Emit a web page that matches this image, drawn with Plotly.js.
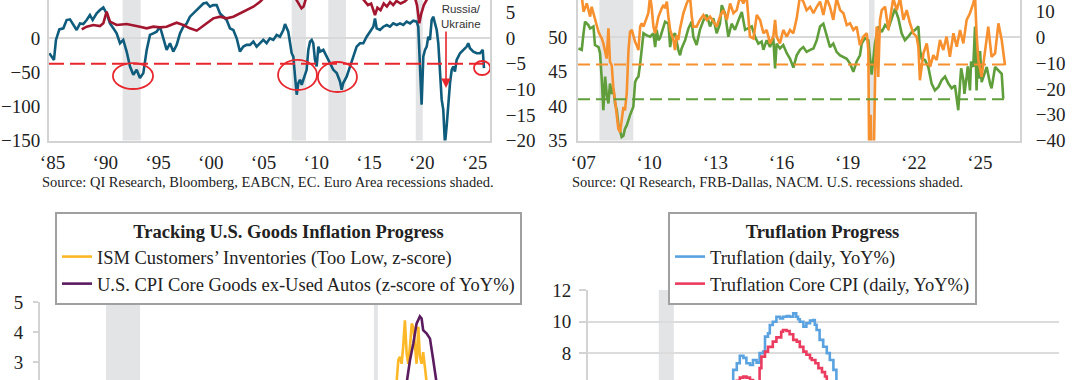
<!DOCTYPE html>
<html><head><meta charset="utf-8">
<script src="https://cdn.plot.ly/plotly-3.0.1.min.js"></script>
<style>html,body{margin:0;padding:0;background:#fff}#chart{width:1080px;height:380px}</style>
</head><body><div id="chart"></div>
<script>
// ---------- DATA ----------
// Top-left: Euro area (left axis) and red series (right axis)
const tlBlueYears = [1984.70,1984.92,1985.14,1985.33,1985.65,1986.03,1986.34,1986.66,1986.97,1987.29,1987.61,1987.92,1988.24,1988.55,1988.81,1989.19,1989.50,1989.82,1990.13,1990.45,1990.77,1991.08,1991.40,1991.71,1992.03,1992.35,1992.66,1992.98,1993.29,1993.61,1993.93,1994.24,1994.56,1994.87,1995.19,1995.51,1995.82,1996.14,1996.45,1996.77,1997.09,1997.40,1997.72,1998.03,1998.35,1998.67,1998.98,1999.30,1999.61,1999.93,2000.24,2000.56,2000.88,2001.19,2001.51,2001.82,2002.14,2002.46,2002.77,2003.09,2003.40,2003.72,2004.04,2004.35,2004.67,2004.98,2005.30,2005.60,2005.93,2006.25,2006.56,2006.88,2007.04,2007.35,2007.67,2007.83,2007.99,2008.15,2008.30,2008.46,2008.62,2008.78,2009.09,2009.25,2009.41,2009.57,2009.72,2009.88,2010.04,2010.20,2010.36,2010.67,2010.99,2011.30,2011.62,2011.94,2012.09,2012.25,2012.41,2012.56,2012.89,2013.20,2013.51,2013.83,2014.15,2014.46,2014.78,2015.09,2015.41,2015.57,2015.73,2016.04,2016.36,2016.68,2016.99,2017.30,2017.63,2017.94,2018.25,2018.57,2018.89,2019.20,2019.52,2019.67,2019.83,2019.99,2020.15,2020.31,2020.47,2020.62,2020.78,2020.94,2021.09,2021.26,2021.42,2021.57,2021.73,2021.89,2022.04,2022.20,2022.36,2022.52,2022.68,2022.84,2022.99,2023.15,2023.31,2023.63,2023.94,2024.26,2024.41,2024.57,2024.89,2025.21,2025.52,2025.78,2025.90];
const tlBlueValues = [-21.9,-26.8,-31.7,-2.4,13.1,14.6,26.8,27.8,19.5,12.2,21.9,20.9,26.8,34.1,26.8,36.5,41.4,45.3,36.5,21.9,14.6,7.3,-7.3,-2.4,-19.5,-41.4,-53.6,-46.3,-58.4,-51.1,-17.0,4.9,7.3,9.7,17.0,-2.4,-17.0,-7.3,-19.5,-9.7,7.3,17.0,21.9,31.7,36.5,41.4,46.3,51.1,52.1,46.3,48.7,48.7,36.5,31.7,26.8,14.6,12.2,0,-19.5,-12.2,-9.7,-9.7,-4.9,-12.2,-7.3,-2.4,-7.3,0,-2.4,4.9,2.4,12.2,20.9,9.7,-21.9,-26.8,-56.0,-82.8,-65.7,-60.9,-68.2,-60.9,-46.3,-17.0,-4.9,-2.4,-7.3,-31.7,-41.4,-12.2,-19.5,-17.0,-26.8,-36.5,-46.3,-51.1,-58.4,-63.3,-75.5,-65.7,-56.0,-41.4,-26.8,-12.2,-7.3,-7.3,2.4,9.7,17.0,29.2,14.6,12.2,17.0,19.5,17.0,21.9,19.5,21.9,19.5,24.4,21.9,25.8,24.4,17.0,-41.4,-97.4,-26.8,-17.0,-12.2,2.4,-2.4,26.8,31.7,21.9,12.2,-7.3,-46.3,-90.1,-104.7,-155,-129,-90.1,-65.7,-46.3,-41.4,-48.7,-31.7,-21.9,-17.0,-12.2,-7.3,-14.6,-19.5,-21.9,-21.9,-17.0,-43.8];
const tlRedYears = [1987.77,1988.24,1988.87,1989.50,1989.82,1990.13,1990.45,1991.08,1992.03,1992.66,1993.29,1993.93,1994.56,1995.19,1995.82,1996.45,1996.77,1997.40,1998.03,1998.67,1998.98,1999.61,2000.24,2000.88,2001.51,2002.14,2002.77,2003.40,2004.04,2004.67,2004.98,2005.6,2006.3,2007.0,2007.7,2008.1,2008.4,2008.6,2008.8,2009.0,2009.5,2010.5,2012.0,2013.5,2014.3,2014.6,2014.9,2015.2,2015.57,2015.8,2016.1,2016.4,2016.7,2017.0,2017.3,2017.6,2018.0,2018.4,2018.8,2019.3,2019.55,2019.77,2019.95,2020.2,2020.5,2021.0,2022.0,2023.0,2024.0,2025.0,2025.9];
const tlRedValues = [1.75,2.27,2.6,2.4,2.92,5.2,3.25,2.6,2.79,2.6,2.27,1.95,2.27,2.14,2.27,2.79,3.05,2.6,1.95,1.49,1.95,2.92,3.9,4.22,3.9,4.22,4.87,5.52,6.17,7.14,7.8,8.6,9.4,10.0,9.0,7.6,6.5,5.85,6.2,7.6,9.3,10.2,10.0,9.4,8.0,7.2,6.5,6.8,4.55,6.0,5.5,6.8,6.2,7.1,6.5,7.3,6.8,7.2,8.0,8.3,6.5,2.92,4.8,6.5,7.8,9.5,10.0,10.3,10.0,10.4,10.1];
const tlYearTicks = [1985,1990,1995,2000,2005,2010,2015,2020,2025];
const tlYearLabels = ['\u201885','\u201890','\u201895','\u201800','\u201805','\u201810','\u201815','\u201820','\u201825'];
const tlRecessions = [[1991.65,1993.36],[2007.67,2009.03],[2011.14,2012.82],[2019.43,2020.09]];
const tlThreshold = -5; // right axis
const tlCircles = [[1990.73,1994.53,-36.3,-74.4],[2006.38,2010.07,-31.8,-75.9],[2010.16,2013.86,-34.8,-78.8],[2024.95,2026.5,-33.3,-53.9]];

// Top-right: NACM (green, left axis) and FRB-Dallas (orange, right axis)
const trGreenYears = [2006.79,2006.94,2007.02,2007.09,2007.24,2007.32,2007.47,2007.54,2007.70,2007.77,2007.85,2007.92,2008.00,2008.07,2008.15,2008.22,2008.30,2008.37,2008.45,2008.53,2008.60,2008.68,2008.75,2008.83,2008.90,2008.98,2009.06,2009.13,2009.28,2009.36,2009.43,2009.51,2009.59,2009.66,2009.74,2009.89,2010.04,2010.19,2010.27,2010.34,2010.42,2010.49,2010.57,2010.72,2010.87,2010.95,2011.02,2011.17,2011.32,2011.40,2011.47,2011.63,2011.78,2011.93,2012.00,2012.15,2012.30,2012.46,2012.61,2012.76,2012.91,2013.06,2013.21,2013.29,2013.44,2013.59,2013.74,2013.89,2014.05,2014.20,2014.35,2014.50,2014.65,2014.80,2014.95,2015.10,2015.18,2015.33,2015.48,2015.63,2015.71,2015.78,2015.93,2016.08,2016.24,2016.39,2016.54,2016.69,2016.84,2016.99,2017.14,2017.30,2017.45,2017.60,2017.75,2017.90,2018.05,2018.20,2018.35,2018.50,2018.66,2018.81,2018.96,2019.11,2019.26,2019.41,2019.56,2019.64,2019.79,2019.94,2020.09,2020.24,2020.39,2020.55,2020.70,2020.85,2021.00,2021.15,2021.30,2021.45,2021.60,2021.75,2021.91,2022.06,2022.21,2022.28,2022.36,2022.51,2022.66,2022.81,2022.96,2023.12,2023.27,2023.42,2023.57,2023.72,2023.87,2024.02,2024.10,2024.15,2024.25,2024.30,2024.40,2024.45,2024.55,2024.60,2024.70,2024.78,2024.85,2024.90,2024.95,2025.01,2025.08,2025.16,2025.31,2025.46,2025.53,2025.69,2025.84,2025.99,2026.06];
const trGreenValues = [48.4,48.2,50.6,52.3,51.8,51.3,51.6,48.9,48.6,47.7,43.8,39.4,44.3,41.8,40.4,43.3,41.8,42.6,40.4,39.4,37.4,36.2,35.5,35.7,36.7,37.2,38.2,38.7,39.9,43.5,44.0,44.3,46.2,48.6,50.6,50.3,50.1,50.6,48.6,51.1,49.6,49.9,50.8,52.3,52.0,48.6,50.1,50.6,48.2,47.4,48.4,49.6,51.3,52.3,50.1,48.9,51.1,52.5,53.3,51.6,52.8,50.6,52.0,54.7,53.5,50.1,52.0,51.1,52.5,53.7,51.1,51.3,51.6,50.1,49.1,49.4,48.2,49.6,48.6,49.9,45.5,49.1,48.4,48.9,47.7,46.9,45.6,47.4,48.2,48.6,47.9,48.2,48.4,49.6,51.6,52.0,50.1,48.6,49.1,47.9,47.4,47.2,46.9,46.2,45.0,46.5,47.4,49.1,49.9,49.6,44.6,49.1,51.6,50.8,51.8,51.3,52.8,54.2,52.8,50.6,49.6,50.1,50.8,51.1,51.6,48.2,46.9,46.7,45.7,43.3,42.3,42.8,43.8,44.3,43.3,42.6,43.0,39.4,43.3,45.5,43.8,41.8,44.3,45.8,42.3,46.5,45.7,51.6,42.3,47.0,44.0,48.0,43.5,44.3,45.7,43.3,42.6,45.7,45.2,44.7,41.1];
const trOrangeYears = [2006.94,2007.02,2007.17,2007.32,2007.39,2007.54,2007.70,2007.77,2007.85,2007.92,2008.00,2008.07,2008.15,2008.22,2008.30,2008.37,2008.45,2008.53,2008.60,2008.68,2008.75,2008.83,2008.90,2008.98,2009.06,2009.13,2009.21,2009.28,2009.36,2009.43,2009.51,2009.59,2009.66,2009.74,2009.81,2009.96,2010.04,2010.11,2010.19,2010.27,2010.34,2010.42,2010.57,2010.65,2010.72,2010.80,2010.87,2010.95,2011.10,2011.17,2011.25,2011.32,2011.40,2011.47,2011.55,2011.70,2011.85,2011.93,2012.00,2012.15,2012.30,2012.46,2012.61,2012.76,2012.91,2013.06,2013.21,2013.36,2013.52,2013.67,2013.82,2013.97,2014.12,2014.27,2014.42,2014.50,2014.57,2014.73,2014.88,2015.03,2015.18,2015.33,2015.48,2015.63,2015.71,2015.78,2015.93,2016.08,2016.24,2016.39,2016.54,2016.69,2016.84,2016.99,2017.14,2017.30,2017.45,2017.60,2017.75,2017.90,2018.05,2018.20,2018.35,2018.50,2018.66,2018.81,2018.96,2019.11,2019.26,2019.41,2019.56,2019.71,2019.87,2019.94,2019.99,2020.05,2020.12,2020.20,2020.26,2020.32,2020.39,2020.47,2020.55,2020.70,2020.85,2020.92,2021.07,2021.23,2021.38,2021.53,2021.68,2021.83,2021.98,2022.13,2022.21,2022.28,2022.44,2022.59,2022.74,2022.89,2023.04,2023.19,2023.34,2023.49,2023.64,2023.80,2023.95,2024.10,2024.25,2024.40,2024.55,2024.70,2024.78,2024.85,2024.93,2025.08,2025.23,2025.38,2025.53,2025.69,2025.84,2025.99,2026.14];
const trOrangeValues = [16,10.0,13.2,8.1,11.9,6.8,2.2,0.9,-0.4,-2.3,-6.2,-8.2,3.5,-9.5,-10.8,-19.2,-24.4,-29.6,-35.5,-36.8,-32.9,-27.0,-28.3,-21.8,-4.9,2.2,2.9,0.3,-1.7,-3.0,-4.9,4.2,5.5,4.2,6.1,9.4,16,11.9,4.2,1.6,4.8,8.1,11.3,12.6,11.3,13.9,8.1,2.9,-1.0,-4.9,0.9,-1.0,3.5,6.8,9.4,13.2,16,8.1,4.2,4.2,6.8,8.7,6.8,8.1,6.1,4.2,8.1,10.6,6.8,13.2,9.4,10.6,16,13.2,16,6.8,0.3,-0.4,8.7,6.8,1.6,2.9,-2.3,0.3,6.8,0.3,-2.3,2.9,0.3,2.9,1.6,7.4,16,13.9,10.6,11.9,9.4,11.9,13.9,8.7,15.2,11.9,6.8,15.2,10.6,9.4,4.8,5.5,2.9,4.2,-3.0,0.3,1.6,-5,-60,-30,-75,-40,-8.8,4.2,-15.3,6.8,10.6,11.9,2.9,6.8,15.2,10.6,15.2,6.8,10.6,5.5,1.6,0.3,-3.6,-16.6,-6.2,-2.3,-11.4,-6.9,-8.8,-1.0,-4.9,0.3,-7.5,1.6,-3.6,2.9,-2.3,6.8,9.4,13.2,16,1.6,-8.8,-15.3,-4.9,4.2,-7.5,-6.2,5.5,-1.0,-10.8];
const trYearTicks = [2007,2010,2013,2016,2019,2022,2025];
const trYearLabels = ['\u201807','\u201810','\u201813','\u201816','\u201819','\u201822','\u201825'];
const trRecessions = [[2007.74,2009.28],[2019.97,2020.22]];
const trGreenThreshold = 41.0;   // left axis
const trOrangeThreshold = -10.5; // right axis

// Bottom-left: Tracking U.S. Goods Inflation Progress
const blIsmYears = [2021.13,2021.21,2021.28,2021.36,2021.43,2021.51,2021.59,2021.66,2021.74,2021.82,2021.89,2021.97,2022.04,2022.12,2022.19,2022.27,2022.34,2022.42,2022.50];
const blIsmValues = [2.3,3.06,3.17,2.94,3.5,4.39,3.28,2.94,3.5,4.28,4.17,3.39,2.94,4.17,3.17,2.94,3.33,2.83,2.3];
const blCpiYears = [2021.59,2021.74,2021.89,2022.04,2022.19,2022.27,2022.34,2022.50,2022.65,2022.72,2022.80,2022.95];
const blCpiValues = [2.3,3.06,3.61,4.28,4.52,4.45,4.06,3.95,3.78,3.5,3.06,2.3];
const blRecessions = [[2007.92,2009.47],[2020.10,2020.28]];

// Bottom-right: Truflation Progress
const brTruYears = [2021.27,2021.32,2021.38,2021.43,2021.49,2021.54,2021.60,2021.65,2021.71,2021.76,2021.82,2021.85,2021.90,2021.93,2021.98,2022.04,2022.10,2022.15,2022.21,2022.26,2022.32,2022.37,2022.40,2022.43,2022.49,2022.54,2022.60,2022.65,2022.68,2022.71,2022.76,2022.82,2022.88,2022.93,2022.99,2023.04];
const brTruValues = [6.2,6.94,7.36,7.84,7.7,7.36,7.25,7.57,7.4,8.0,8.1,9.05,9.26,9.78,9.99,10.31,10.2,10.31,10.35,10.31,10.52,10.31,10.15,9.99,9.68,9.9,10.06,10.1,9.8,9.47,8.84,8.41,8.0,7.57,6.94,6.2];
const brCoreYears = [2021.32,2021.38,2021.43,2021.49,2021.54,2021.60,2021.65,2021.71,2021.76,2021.79,2021.85,2021.90,2021.98,2022.04,2022.12,2022.15,2022.21,2022.26,2022.32,2022.38,2022.43,2022.49,2022.54,2022.60,2022.63,2022.69,2022.74,2022.80,2022.85,2022.88];
const brCoreValues = [6.2,6.25,6.45,6.52,6.45,6.3,6.2,6.15,7.05,7.78,8.1,8.4,8.73,9.0,9.36,9.47,9.4,9.2,8.84,8.73,8.4,8.1,7.9,7.68,7.57,7.36,7.05,6.8,6.52,6.2];
const brRecessions = [[2020.08,2020.33]];

// ---------- LAYOUT HELPERS ----------
const W = 1080, H = 380;
const px = v => v / W;
const py = v => 1 - v / H;
const SERIF = 'Liberation Serif, DejaVu Serif, serif';
const SANS = 'Liberation Sans, Arial, sans-serif';
const AXC = '#d3d3d3', TXT = '#222';
const SHADE = '#e3e4e6', RED = '#e8262d';

const traces = [
  {x: tlBlueYears, y: tlBlueValues, xaxis:'x', yaxis:'y', mode:'lines', line:{color:'#0f5c7c', width:2.6}, showlegend:false, hoverinfo:'skip'},
  {x: tlRedYears, y: tlRedValues, xaxis:'x', yaxis:'y2', mode:'lines', line:{color:'#a3162f', width:2.6}, showlegend:false, hoverinfo:'skip'},
  {x: trGreenYears, y: trGreenValues, xaxis:'x2', yaxis:'y3', mode:'lines', line:{color:'#5f9e3a', width:2.6}, showlegend:false, hoverinfo:'skip'},
  {x: trOrangeYears, y: trOrangeValues, xaxis:'x2', yaxis:'y4', mode:'lines', line:{color:'#f7902e', width:2.6}, showlegend:false, hoverinfo:'skip'},
  {x: blIsmYears, y: blIsmValues, xaxis:'x3', yaxis:'y5', mode:'lines', name:'ISM Customers\u2019 Inventories (Too Low, z-score)', line:{color:'#fdb827', width:2.6}, legend:'legend'},
  {x: blCpiYears, y: blCpiValues, xaxis:'x3', yaxis:'y5', mode:'lines', name:'U.S. CPI Core Goods ex-Used Autos (z-score of YoY%)', line:{color:'#5b1b5f', width:2.6}, legend:'legend'},
  {x: brTruYears, y: brTruValues, xaxis:'x4', yaxis:'y6', mode:'lines', name:'Truflation (daily, YoY%)', line:{color:'#5aa3e0', width:2.6, shape:'hv'}, legend:'legend2'},
  {x: brCoreYears, y: brCoreValues, xaxis:'x4', yaxis:'y6', mode:'lines', name:'Truflation Core CPI (daily, YoY%)', line:{color:'#eb3b5f', width:2.6, shape:'hv'}, legend:'legend2'}
];

const tickFont = {family: SERIF, size: 19, color: TXT};
const baseAxis = {showgrid:false, zeroline:false, showline:true, linecolor:AXC, linewidth:2, tickfont:tickFont, ticks:'', fixedrange:true};

const shapes = [];
const band = (xref, yref, r) => ({type:'rect', xref, yref, x0:r[0], x1:r[1], y0:0, y1:1, fillcolor:SHADE, line:{width:0}, layer:'below'});
tlRecessions.forEach(r => shapes.push(band('x','y domain',r)));
trRecessions.forEach(r => shapes.push(band('x2','y3 domain',r)));
blRecessions.forEach(r => shapes.push(band('x3','y5 domain',r)));
brRecessions.forEach(r => shapes.push(band('x4','y6 domain',r)));
shapes.push({type:'line', xref:'x', yref:'y2', x0:1984.67, x1:2026.1, y0:tlThreshold, y1:tlThreshold, line:{color:RED, width:2, dash:'15px,6px'}});
shapes.push({type:'line', xref:'x2', yref:'y4', x0:2006.77, x1:2026.1, y0:trOrangeThreshold, y1:trOrangeThreshold, line:{color:'#f7902e', width:2, dash:'12px,6px'}});
shapes.push({type:'line', xref:'x2', yref:'y3', x0:2006.77, x1:2026.1, y0:trGreenThreshold, y1:trGreenThreshold, line:{color:'#5f9e3a', width:2, dash:'12px,6px'}});
tlCircles.forEach(c => shapes.push({type:'circle', xref:'x', yref:'y', x0:c[0], x1:c[1], y0:c[2], y1:c[3], line:{color:RED, width:1.8}, fillcolor:'rgba(0,0,0,0)'}));

const annotations = [
  {xref:'paper', yref:'paper', x:px(268), y:py(182), xanchor:'center', yanchor:'middle', showarrow:false,
   text:'Source: QI Research, Bloomberg, EABCN, EC. Euro Area recessions shaded.', font:{family:SERIF, size:14.5, color:TXT}},
  {xref:'paper', yref:'paper', x:px(767), y:py(182), xanchor:'center', yanchor:'middle', showarrow:false,
   text:'Source: QI Research, FRB-Dallas, NACM. U.S. recessions shaded.', font:{family:SERIF, size:14.5, color:TXT}},
  {xref:'x', yref:'y', x:2022.3, y:-73, axref:'x', ayref:'y', ax:2022.3, ay:12.2, text:'', showarrow:true,
   arrowhead:2, arrowsize:1.2, arrowwidth:1.6, arrowcolor:RED},
  {xref:'x', yref:'y', x:2023.72, y:32.7, text:'Russia/<br>Ukraine', showarrow:false, xanchor:'center', yanchor:'middle', align:'center',
   font:{family:SANS, size:11.5, color:'#333'}}
];

const legendBase = {xanchor:'left', yanchor:'top', bgcolor:'#fff', bordercolor:'#a0a0a0', borderwidth:2,
  font:{family:SERIF, size:18.5, color:TXT}, itemwidth:30, tracegroupgap:0, itemclick:false, itemdoubleclick:false};

const layout = {
  width: W, height: H, margin:{l:0, r:0, t:0, b:0}, paper_bgcolor:'#fff', plot_bgcolor:'rgba(0,0,0,0)',
  font:{family:SERIF, color:TXT}, showlegend:true,
  xaxis: Object.assign({}, baseAxis, {domain:[px(49), px(490)], range:[1984.67, 2026.47], anchor:'y', tickmode:'array', tickvals:tlYearTicks, ticktext:tlYearLabels, ticklabelstandoff:4}),
  yaxis: Object.assign({}, baseAxis, {domain:[py(140.5), 1], range:[-150, 56.2], anchor:'x', dtick:50, tick0:0, zeroline:true, zerolinecolor:'#d9d9d9', zerolinewidth:2, ticklabelstandoff:3}),
  yaxis2: Object.assign({}, baseAxis, {overlaying:'y', side:'right', anchor:'x', range:[-20, 7.49], dtick:5, tick0:0, ticklabelstandoff:10}),
  xaxis2: Object.assign({}, baseAxis, {domain:[px(578), px(1020)], range:[2006.77, 2026.82], anchor:'y3', tickmode:'array', tickvals:trYearTicks, ticktext:trYearLabels, ticklabelstandoff:4}),
  yaxis3: Object.assign({}, baseAxis, {domain:[py(140.5), 1], range:[35, 55.45], anchor:'x2', dtick:5, tick0:0, ticklabelstandoff:5}),
  yaxis4: Object.assign({}, baseAxis, {overlaying:'y3', side:'right', anchor:'x2', range:[-40, 14.53], dtick:10, tick0:0, zeroline:true, zerolinecolor:'#d9d9d9', zerolinewidth:2, ticklabelstandoff:10}),
  xaxis3: {domain:[px(40), px(525)], range:[2004.92, 2026.97], anchor:'y5', visible:false, fixedrange:true},
  yaxis5: Object.assign({}, baseAxis, {domain:[0, py(302)], range:[2.4, 5], anchor:'x3', dtick:1, tick0:0, ticks:'outside', ticklen:5, tickcolor:AXC, tickwidth:2, ticklabelstandoff:6}),
  xaxis4: {domain:[px(588), px(1059)], range:[2018.9, 2026.75], anchor:'y6', visible:false, fixedrange:true},
  yaxis6: Object.assign({}, baseAxis, {domain:[0, py(290)], range:[6.3, 12], anchor:'x4', dtick:2, tick0:0, showgrid:true, gridcolor:'#dcdcdc', gridwidth:2, ticks:'outside', ticklen:7, tickcolor:AXC, tickwidth:2, ticklabelstandoff:4}),
  legend: Object.assign({}, legendBase, {x:px(55), y:py(212), title:{text:'<b>Tracking U.S. Goods Inflation Progress</b>', side:'top center', font:{family:SERIF, size:18.5, color:TXT}}}),
  legend2: Object.assign({}, legendBase, {x:px(668), y:py(212), title:{text:'<b>Truflation Progress</b>', side:'top center', font:{family:SERIF, size:18.5, color:TXT}}}),
  shapes: shapes,
  annotations: annotations
};

Plotly.newPlot('chart', traces, layout, {staticPlot:true, displayModeBar:false});
</script></body></html>
